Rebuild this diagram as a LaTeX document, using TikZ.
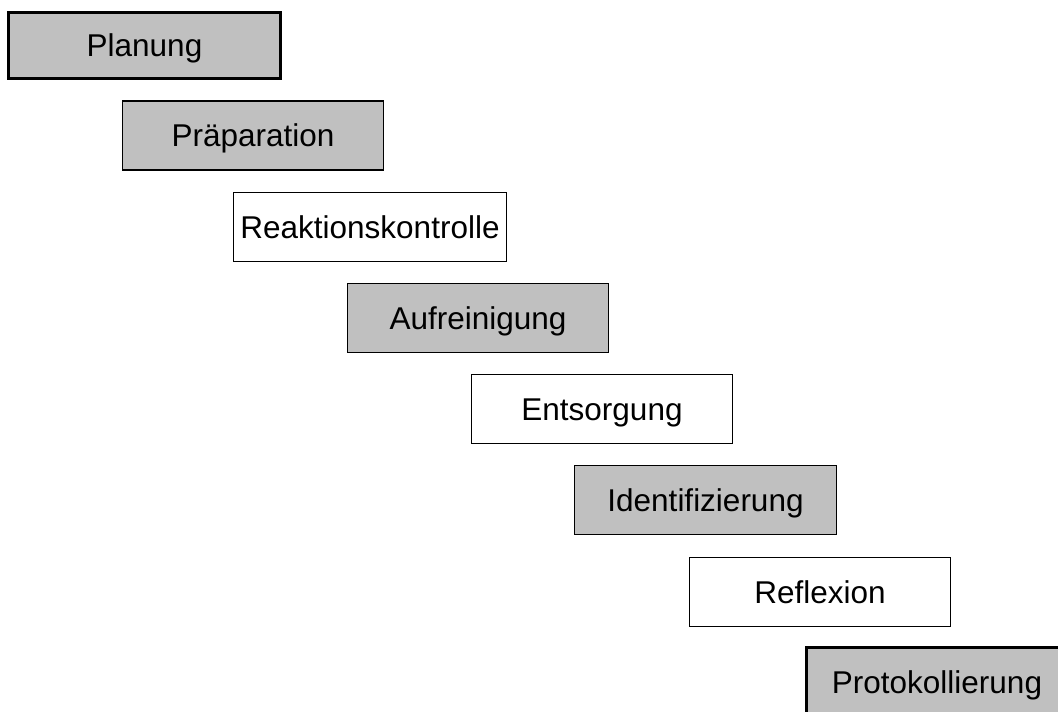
\documentclass[tikz,border=0pt]{standalone}
\usepackage{fontspec}
\setmainfont{Liberation Sans}
\begin{document}
\begin{tikzpicture}[x=1pt,y=-1pt,
  stepbox/.style={draw=black,line width=1.5pt,inner sep=0pt,minimum width=261pt,minimum height=69pt,text height=22.5pt,text depth=0pt,font=\fontsize{31.5}{36}\selectfont},
  grey/.style={fill=boxgrey},
  white/.style={fill=white}]
\definecolor{boxgrey}{HTML}{C0C0C0}
\useasboundingbox (0,0) rectangle (1058,712);
\clip (0,0) rectangle (1058,712);
\node[stepbox,grey,line width=3pt,minimum width=272pt,minimum height=66pt] (planung) at (144.5,45.5) {Planung};
\node[stepbox,grey] (praep) at (253,135.5) {Präparation};
\node[stepbox,white,minimum width=273pt] (reakt) at (370,227) {Reaktionskontrolle};
\node[stepbox,grey] (aufr) at (478,318) {Aufreinigung};
\node[stepbox,white] (ents) at (602,409) {Entsorgung};
\node[stepbox,grey,minimum width=262pt] (ident) at (705.5,500) {Identifizierung};
\node[stepbox,white] (refl) at (820,592) {Reflexion};
\node[stepbox,grey,line width=2.5pt] (proto) at (937,682) {Protokollierung};
\end{tikzpicture}
\end{document}
